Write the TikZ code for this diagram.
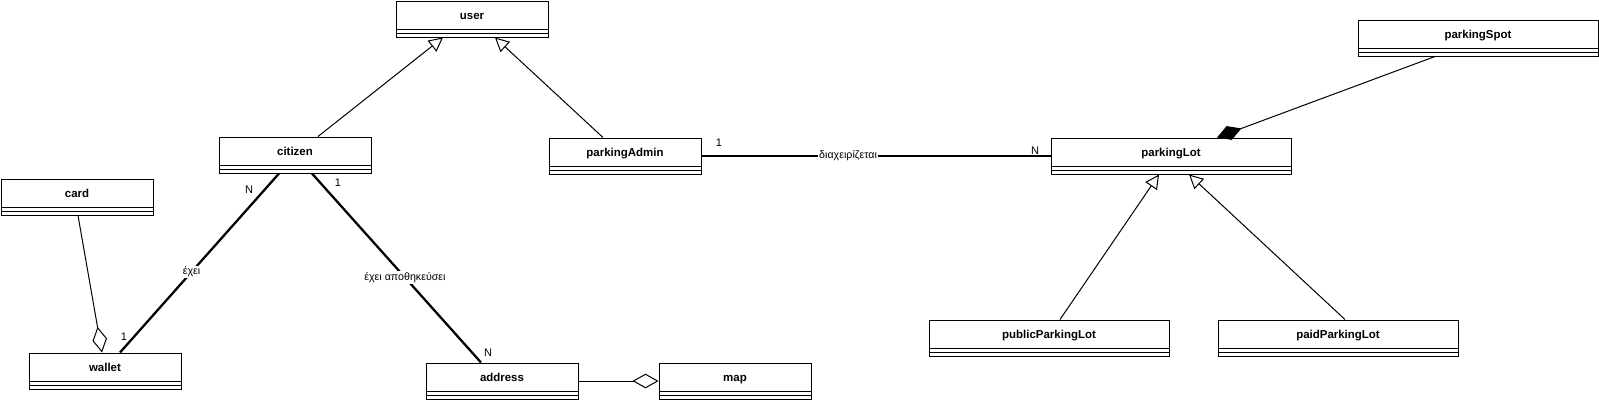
\documentclass[tikz,border=0pt]{standalone}
\usepackage{fontspec}
\setmainfont{Liberation Sans}
\usetikzlibrary{positioning,arrows.meta,calc}

\tikzset{
  umlclass/.style={draw, line width=0.75pt, fill=white, minimum width=114pt, minimum height=27pt,
    inner sep=0pt, text height=7pt, text depth=6.5pt, font=\fontsize{8.6}{10}\selectfont\bfseries,
    path picture={
      \draw[line width=0.75pt] ([yshift=6pt]path picture bounding box.south west) -- ([yshift=6pt]path picture bounding box.south east);
      \draw[line width=0.75pt] ([yshift=3pt]path picture bounding box.south west) -- ([yshift=3pt]path picture bounding box.south east);
    }},
  wideclass/.style={umlclass, minimum width=180pt},
  inherit/.style={line width=0.75pt, -{Triangle[length=10.5pt, width=10.5pt, fill=white]}},
  assoc/.style={line width=1.7pt},
  aggr/.style={line width=0.75pt, -{Diamond[length=19.5pt, width=11pt, fill=white]}},
  compos/.style={line width=0.75pt, -{Diamond[length=19.5pt, width=11pt, fill=black]}},
  rolename/.style={fill=white, inner sep=1pt, font=\fontsize{8}{9}\selectfont},
  mult/.style={inner sep=0pt, font=\fontsize{8.25}{9}\selectfont}
}

\begin{document}
\begin{tikzpicture}[x=0.75pt, y=-0.75pt]
  \useasboundingbox (0,0) rectangle (1599,408);

  % Classes
  \node[umlclass] (user) at (472,19) {user};
  \node[umlclass] (citizen) at (295,155) {citizen};
  \node[umlclass] (parkingAdmin) at (625,156) {parkingAdmin};
  \node[umlclass] (card) at (77,197) {card};
  \node[umlclass] (wallet) at (105,371) {wallet};
  \node[umlclass] (address) at (502,381) {address};
  \node[umlclass] (map) at (735,381) {map};
  \node[wideclass] (parkingSpot) at (1478,38) {parkingSpot};
  \node[wideclass] (parkingLot) at (1171,156) {parkingLot};
  \node[wideclass] (publicParkingLot) at (1049,338) {publicParkingLot};
  \node[wideclass] (paidParkingLot) at (1338,338) {paidParkingLot};

  % Inheritance
  \draw[inherit] ($(citizen.north)+(23,0)$) -- ($(user.south)+(-29,0)$);
  \draw[inherit] ($(parkingAdmin.north)+(-22,0)$) -- ($(user.south)+(23,0)$);
  \draw[inherit] ($(publicParkingLot.north)+(11,0)$) -- ($(parkingLot.south)+(-12,0)$);
  \draw[inherit] ($(paidParkingLot.north)+(7,0)$) -- ($(parkingLot.south)+(18,0)$);

  % Associations
  \draw[assoc] (parkingAdmin.east) -- node[rolename, pos=0.42] (manages) {διαχειρίζεται} (parkingLot.west);
  \draw[assoc] ($(citizen.south)+(-16,0)$) -- node[rolename, pos=0.55] (has) {έχει} ($(wallet.north)+(15,0)$);
  \draw[assoc] ($(citizen.south)+(17,0)$) -- node[rolename, pos=0.55] (stores) {έχει αποθηκεύσει} ($(address.north)+(-21,0)$);

  % Multiplicities
  \node[mult] (m1) at (719,143) {1};
  \node[mult] (m2) at (1035,151) {N};
  \node[mult] (m3) at (249,190) {N};
  \node[mult] (m4) at (338,183) {1};
  \node[mult] (m5) at (124,337) {1};
  \node[mult] (m6) at (488,353) {N};

  % Aggregation and composition
  \draw[aggr] ($(card.south)+(1,0)$) -- ($(wallet.north)+(-3,0)$);
  \draw[aggr] (address.east) -- (map.west);
  \draw[compos] ($(parkingSpot.south)+(-43,0)$) -- ($(parkingLot.north)+(46,0)$);
\end{tikzpicture}
\end{document}
